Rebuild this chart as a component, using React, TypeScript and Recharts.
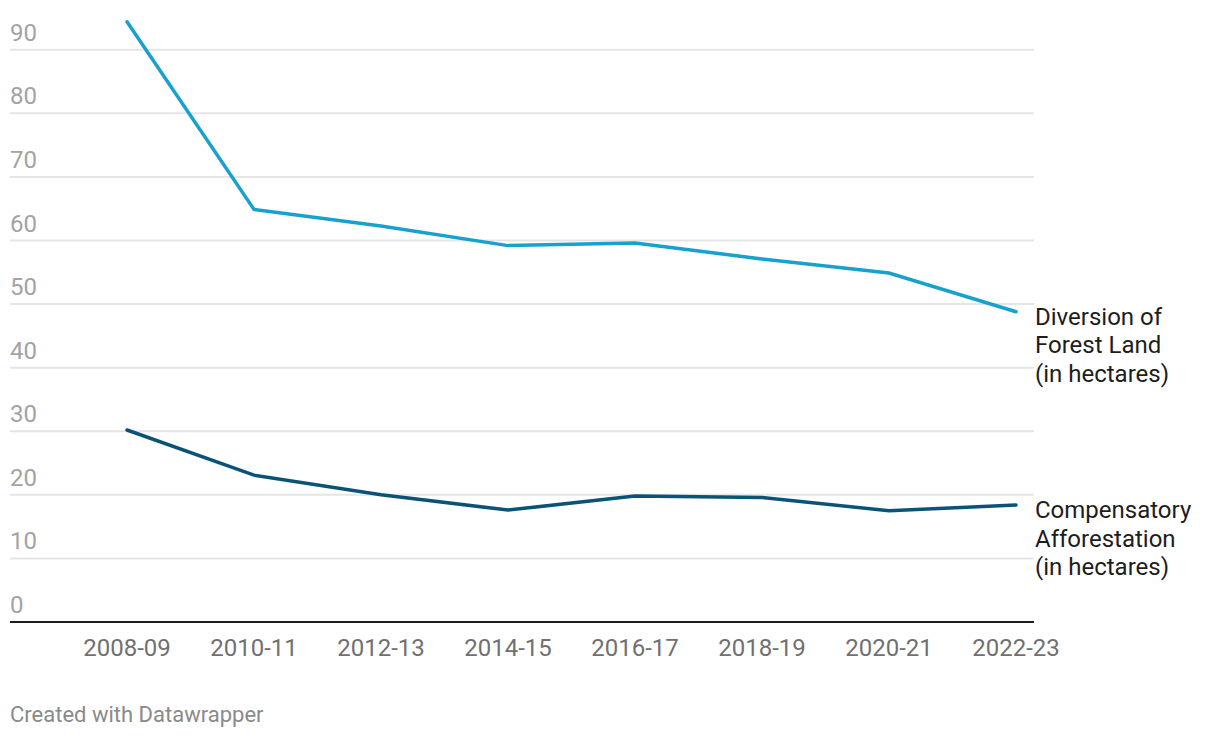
import React from "react";
import { LineChart, Line, XAxis, YAxis, CartesianGrid } from "recharts";

const years = ["2008-09", "2010-11", "2012-13", "2014-15", "2016-17", "2018-19", "2020-21", "2022-23"];
const diversion = [94.4, 64.9, 62.3, 59.2, 59.6, 57.1, 54.9, 48.8];
const compensatory = [30.2, 23.1, 20.0, 17.6, 19.8, 19.6, 17.5, 18.4];
const yTicks = [0, 10, 20, 30, 40, 50, 60, 70, 80, 90];
const yMax = 95;

const seriesLabels: Record<string, string[]> = {
  diversion: ["Diversion of", "Forest Land", "(in hectares)"],
  compensatory: ["Compensatory", "Afforestation", "(in hectares)"],
};

const data = years.map((year, i) => ({
  year,
  diversion: diversion[i],
  compensatory: compensatory[i],
}));

const FONT = "Roboto, sans-serif";

function YTick({ y, payload }: any) {
  return (
    <text x={10} y={y - 9} fill="#a3a3a3" fontSize={24} fontFamily={FONT} textAnchor="start">
      {payload.value}
    </text>
  );
}

function XTick({ x, y, payload }: any) {
  return (
    <text x={x} y={y + 26} fill="#707070" fontSize={24} fontFamily={FONT} textAnchor="middle">
      {payload.value}
    </text>
  );
}

function endLabel(key: string) {
  return (props: any) => {
    const { x, y, index } = props;
    if (index !== years.length - 1) return null;
    return (
      <text key={key} x={x + 19} y={y + 13} fill="#1d1d1d" fontSize={24} fontFamily={FONT}>
        {seriesLabels[key].map((line, i) => (
          <tspan key={i} x={x + 19} dy={i === 0 ? 0 : 28.5}>
            {line}
          </tspan>
        ))}
      </text>
    );
  };
}

// grid only at the tick values, not at the top edge of the plot
const gridRows = ({ offset }: any) =>
  yTicks.map((t) => offset.top + offset.height * (1 - t / yMax));

export default function App() {
  return (
    <div style={{ position: "absolute", left: 0, top: 0, width: 1220, height: 738, background: "#fff" }}>
      <LineChart
        width={1220}
        height={738}
        data={data}
        margin={{ top: 18, right: 186, bottom: 76, left: -20 }}
      >
        <CartesianGrid
          vertical={false}
          stroke="#e5e5e5"
          strokeWidth={2}
          horizontalCoordinatesGenerator={gridRows}
        />
        <XAxis
          dataKey="year"
          padding={{ left: 117, right: 18 }}
          axisLine={{ stroke: "#1d1d1d", strokeWidth: 2 }}
          tickLine={false}
          tick={<XTick />}
          height={40}
          interval={0}
        />
        <YAxis
          domain={[0, yMax]}
          ticks={yTicks}
          width={30}
          axisLine={false}
          tickLine={false}
          tick={<YTick />}
          interval={0}
        />
        <Line
          dataKey="diversion"
          stroke="#18a1cd"
          strokeWidth={3.5}
          strokeLinecap="round"
          dot={false}
          isAnimationActive={false}
          label={endLabel("diversion")}
        />
        <Line
          dataKey="compensatory"
          stroke="#0a5377"
          strokeWidth={3.5}
          strokeLinecap="round"
          dot={false}
          isAnimationActive={false}
          label={endLabel("compensatory")}
        />
      </LineChart>
      <div
        style={{
          position: "absolute",
          left: 10,
          top: 702,
          fontFamily: FONT,
          fontSize: 22,
          color: "#8a8a8a",
          lineHeight: "26px",
        }}
      >
        Created with Datawrapper
      </div>
    </div>
  );
}
